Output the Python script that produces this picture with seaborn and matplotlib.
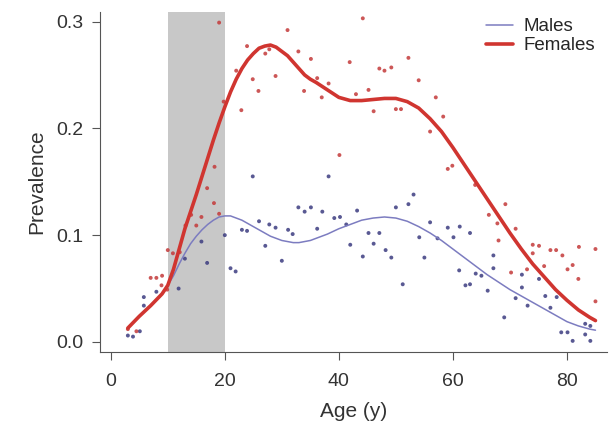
import pandas as pd
import seaborn as sns
import matplotlib.pyplot as plt

# === smoothed curves ===
curve_age = [3, 5, 7, 9, 10, 11, 12, 13, 14, 15, 16, 17, 18, 19, 20, 21, 22, 23, 24,
             25, 26, 27, 28, 29, 30, 31, 32, 33, 34, 35, 36, 38, 40, 42, 44, 46, 48,
             50, 52, 54, 56, 58, 60, 62, 64, 66, 68, 70, 72, 74, 76, 78, 80, 82, 84, 85]
females_curve = [0.013, 0.024, 0.034, 0.045, 0.053, 0.068, 0.087, 0.106, 0.122, 0.138,
                 0.155, 0.172, 0.189, 0.205, 0.220, 0.234, 0.246, 0.256, 0.264, 0.270,
                 0.275, 0.277, 0.278, 0.276, 0.272, 0.268, 0.262, 0.256, 0.250, 0.246,
                 0.243, 0.236, 0.229, 0.226, 0.226, 0.227, 0.228, 0.228, 0.225, 0.219,
                 0.209, 0.197, 0.182, 0.166, 0.150, 0.134, 0.118, 0.102, 0.087, 0.073,
                 0.061, 0.049, 0.039, 0.030, 0.023, 0.020]
males_curve = [0.013, 0.024, 0.034, 0.045, 0.053, 0.062, 0.073, 0.083, 0.092, 0.099,
               0.105, 0.110, 0.114, 0.117, 0.118, 0.118, 0.116, 0.114, 0.111, 0.108,
               0.105, 0.102, 0.099, 0.097, 0.095, 0.094, 0.093, 0.093, 0.094, 0.095,
               0.097, 0.101, 0.106, 0.110, 0.114, 0.116, 0.117, 0.116, 0.113, 0.108,
               0.102, 0.095, 0.087, 0.079, 0.071, 0.063, 0.056, 0.049, 0.043, 0.037,
               0.031, 0.025, 0.019, 0.015, 0.012, 0.011]

# === observed prevalence points ===
fem_age = [3.0, 4.5, 7.0, 8.0, 9.0, 8.9, 9.9, 10.0, 10.9, 12.1, 13.1, 14.1, 15.0, 15.9,
           16.9, 18.1, 18.2, 19.0, 19.0, 19.8, 22.0, 22.9, 23.9, 24.9, 25.9, 27.1, 27.8,
           28.9, 31.0, 32.9, 33.9, 35.1, 36.2, 37.0, 38.2, 40.1, 41.9, 43.0, 44.2, 45.2,
           46.1, 47.1, 48.0, 49.2, 50.0, 50.9, 52.2, 54.0, 56.0, 57.0, 58.3, 59.1, 59.9,
           63.9, 66.3, 67.8, 69.2, 71.0, 68.0, 74.0, 75.1, 74.0, 77.1, 78.1, 79.2, 82.1,
           85.0, 76.0, 81.0, 80.1, 82.0, 73.0, 70.2, 85.0]
fem_val = [0.012, 0.010, 0.060, 0.060, 0.062, 0.053, 0.049, 0.086, 0.083, 0.084, 0.109,
           0.119, 0.109, 0.117, 0.144, 0.130, 0.164, 0.120, 0.299, 0.225, 0.254, 0.217,
           0.277, 0.246, 0.235, 0.270, 0.274, 0.249, 0.292, 0.272, 0.235, 0.265, 0.247,
           0.229, 0.242, 0.175, 0.262, 0.232, 0.303, 0.236, 0.216, 0.256, 0.254, 0.257,
           0.218, 0.218, 0.266, 0.245, 0.197, 0.229, 0.211, 0.162, 0.165, 0.147, 0.119,
           0.111, 0.129, 0.106, 0.095, 0.091, 0.090, 0.083, 0.086, 0.086, 0.081, 0.089,
           0.087, 0.071, 0.072, 0.068, 0.059, 0.068, 0.065, 0.038]

male_age = [3.0, 3.9, 5.1, 5.8, 5.8, 8.0, 11.9, 13.0, 15.9, 16.9, 20.0, 21.0, 21.9, 23.0,
            23.9, 24.9, 26.0, 27.8, 28.9, 27.1, 30.0, 31.1, 31.9, 32.9, 34.0, 35.1, 37.1,
            36.2, 38.2, 39.2, 40.2, 41.3, 42.0, 43.2, 44.2, 45.2, 46.1, 47.1, 48.2, 49.2,
            50.0, 51.2, 52.2, 53.1, 54.1, 55.0, 56.0, 57.3, 59.1, 60.1, 61.2, 61.1, 62.2,
            63.0, 63.0, 64.0, 65.0, 66.1, 67.1, 67.1, 69.0, 71.0, 72.1, 72.1, 73.1, 75.1,
            76.2, 77.1, 78.2, 79.0, 80.1, 81.0, 83.2, 84.1, 83.2, 84.1]
male_val = [0.006, 0.005, 0.010, 0.034, 0.042, 0.047, 0.050, 0.078, 0.094, 0.074, 0.100,
            0.069, 0.066, 0.105, 0.104, 0.155, 0.113, 0.110, 0.107, 0.090, 0.076, 0.105,
            0.101, 0.126, 0.122, 0.126, 0.122, 0.106, 0.155, 0.116, 0.117, 0.110, 0.091,
            0.123, 0.080, 0.102, 0.092, 0.102, 0.086, 0.079, 0.126, 0.054, 0.129, 0.138,
            0.098, 0.079, 0.112, 0.097, 0.107, 0.098, 0.108, 0.067, 0.053, 0.054, 0.102,
            0.064, 0.062, 0.048, 0.081, 0.069, 0.023, 0.041, 0.063, 0.051, 0.034, 0.059,
            0.043, 0.032, 0.042, 0.009, 0.009, 0.001, 0.007, 0.001, 0.017, 0.015]

df_curve = pd.concat([
    pd.DataFrame({"age": curve_age, "prev": males_curve, "sex": "Males"}),
    pd.DataFrame({"age": curve_age, "prev": females_curve, "sex": "Females"}),
], ignore_index=True)
df_pts = pd.concat([
    pd.DataFrame({"age": male_age, "prev": male_val, "sex": "Males"}),
    pd.DataFrame({"age": fem_age, "prev": fem_val, "sex": "Females"}),
], ignore_index=True)

sns.set_style("ticks")
plt.rcParams['font.family'] = ['Liberation Sans', 'DejaVu Sans']

colors = {"Males": "#7c7cc0", "Females": "#d03530"}
dot_colors = {"Males": "#3c3c80", "Females": "#c43a3a"}

fig = plt.figure(figsize=(6.13, 4.26), dpi=100)
ax = fig.add_axes([0.163, 0.174, 0.827, 0.798])

ax.axvspan(10, 20, color="#c8c8c8", lw=0, zorder=0)

sns.scatterplot(data=df_pts, x="age", y="prev", hue="sex", palette=dot_colors,
                s=8, linewidth=0, alpha=0.85, legend=False, ax=ax, zorder=2)
sns.lineplot(data=df_curve, x="age", y="prev", hue="sex", palette=colors,
             size="sex", sizes={"Males": 1.1, "Females": 2.6},
             hue_order=["Males", "Females"], size_order=["Males", "Females"],
             ax=ax, zorder=3)

ax.set_xlim(-1.9, 87)
ax.set_ylim(-0.0093, 0.309)
ax.set_xticks([0, 20, 40, 60, 80])
ax.set_yticks([0.0, 0.1, 0.2, 0.3])
ax.set_yticklabels(["0.0", "0.1", "0.2", "0.3"])
ax.set_xlabel("Age (y)", fontsize=15, color="#333333", labelpad=9)
ax.set_ylabel("Prevalence", fontsize=15, color="#333333", labelpad=7)
ax.tick_params(labelsize=14, colors="#333333", length=6, color="#555555")
ax.tick_params(axis="y", pad=6)
ax.tick_params(axis="x", pad=9)
for side in ["left", "bottom"]:
    ax.spines[side].set_color("#555555")
sns.despine(ax=ax)

ax.legend(title=None, frameon=False, loc="upper right", fontsize=13.5,
          handlelength=1.4, handletextpad=0.6, labelspacing=0.1,
          borderaxespad=0.2, bbox_to_anchor=(1.0, 1.015))

plt.savefig("out.png", dpi=100)
